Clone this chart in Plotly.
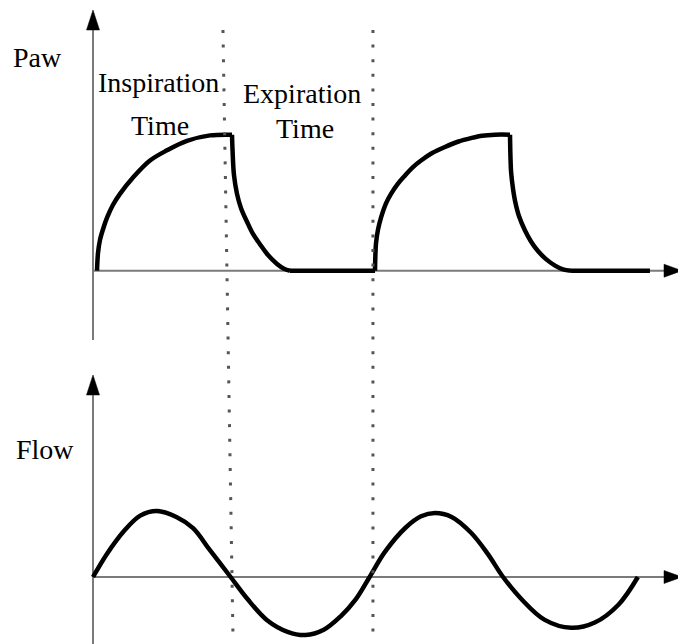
import plotly.graph_objects as go

# Airway pressure (Paw) during two breaths: time (s) and pressure (cmH2O)
paw_t = [0.029, 0.036, 0.050, 0.072, 0.101, 0.144, 0.194, 0.288, 0.410, 0.532,
         0.676, 0.842, 1.000,
         1.004, 1.014, 1.036, 1.065, 1.108, 1.151, 1.201, 1.259, 1.324, 1.374,
         1.417, 2.029,
         2.036, 2.050, 2.072, 2.108, 2.144, 2.194, 2.245, 2.300, 2.360, 2.440,
         2.532, 2.630, 2.719, 2.800, 2.892, 3.000,
         3.003, 3.008, 3.022, 3.036, 3.065, 3.108, 3.151, 3.201, 3.259, 3.324,
         3.381, 3.439, 4.007]
paw_v = [0.0, 2.6, 4.5, 6.1, 7.8, 9.7, 11.3, 13.7, 16.2, 17.7,
         19.1, 19.9, 20.0,
         17.7, 14.1, 11.3, 9.2, 7.2, 5.4, 3.9, 2.3, 1.0, 0.3,
         0.0, 0.0,
         4.0, 6.0, 7.8, 9.9, 11.3, 12.8, 14.0, 15.2, 16.2, 17.3,
         18.2, 19.0, 19.5, 19.85, 20.0, 20.0,
         17.0, 14.5, 12.0, 10.3, 8.0, 5.9, 4.3, 2.9, 1.7, 0.75,
         0.2, 0.0, 0.0]
# instants where the pressure trace changes course abruptly
paw_corners_t = [1.000, 1.417, 2.029, 3.000, 3.439]

# Flow (L/s) over the same two breaths
flow_t = [0.00, 0.10, 0.22, 0.34, 0.46, 0.60, 0.72, 0.84, 0.99, 1.11, 1.25,
          1.40, 1.53, 1.66, 1.78, 1.89, 1.99, 2.10, 2.25, 2.36, 2.46, 2.58,
          2.72, 2.84, 2.95, 3.08, 3.25, 3.44, 3.61, 3.78, 3.92]
flow_v = [0.00, 0.35, 0.69, 0.93, 1.00, 0.91, 0.74, 0.41, 0.00, -0.33, -0.65,
          -0.83, -0.88, -0.80, -0.60, -0.34, 0.00, 0.38, 0.75, 0.92, 0.97, 0.91,
          0.67, 0.35, 0.00, -0.33, -0.65, -0.77, -0.69, -0.42, 0.00]

# Boundaries between inspiration and expiration (top end, bottom end)
phase_top_t = [0.935, 2.014]
phase_bottom_t = [1.007, 2.014]

panel_labels = ["Paw", "Flow"]
phase_labels = [["Inspiration", "Time"], ["Expiration", "Time"]]

W, H = 678, 644
X0, XS = 93.0, 139.0          # pixel of t=0 and pixels per second
PAW0, PAWS = 270.7, 6.8       # pixel of Paw=0 and pixels per cmH2O
FLOW0, FLOWS = 577.0, 66.0    # pixel of Flow=0 and pixels per L/s


def px(xp):
    return xp / W


def py(yp):
    return 1 - yp / H


fig = go.Figure()

# pressure trace: smooth pieces joined at sharp corners
cuts = [0] + [paw_t.index(c) for c in paw_corners_t] + [len(paw_t) - 1]
for a, b in zip(cuts[:-1], cuts[1:]):
    fig.add_trace(go.Scatter(
        x=paw_t[a:b + 1], y=paw_v[a:b + 1], mode="lines", yaxis="y",
        line=dict(color="black", width=4.5, shape="spline", smoothing=1.0,
                  simplify=False),
        hoverinfo="skip"))

fig.add_trace(go.Scatter(
    x=flow_t, y=flow_v, mode="lines", yaxis="y2",
    line=dict(color="black", width=4.5, shape="spline", smoothing=1.0,
              simplify=False),
    hoverinfo="skip"))

axis_col = "#7a7a7a"
shapes = []
# vertical axes
for top, bottom in [(28, 340), (393, H + 2)]:
    shapes.append(dict(type="line", xref="x", yref="paper", x0=0, x1=0,
                       y0=py(bottom), y1=py(top),
                       line=dict(color=axis_col, width=2), layer="below"))
# horizontal axes at Paw = 0 and Flow = 0
for yr in ["y", "y2"]:
    shapes.append(dict(type="line", xref="x", yref=yr, x0=0,
                       x1=(664 - X0) / XS, y0=0, y1=0,
                       line=dict(color=axis_col, width=2), layer="below"))

# arrow heads
hw = 6.5 / XS
for tip, base in [(10, 30), (375, 395)]:
    shapes.append(dict(type="path", xref="x", yref="paper",
                       path=f"M {-hw},{py(base)} L 0,{py(tip)} L {hw},{py(base)} Z",
                       fillcolor="black", line=dict(color="black", width=0.5)))
for yr, scale in [("y", PAWS), ("y2", FLOWS)]:
    hh = 6.5 / scale
    shapes.append(dict(type="path", xref="paper", yref=yr,
                       path=f"M {px(664)},{-hh} L {px(682)},0 L {px(664)},{hh} Z",
                       fillcolor="black", line=dict(color="black", width=0.5)))

# dotted phase boundaries
for tt, tb in zip(phase_top_t, phase_bottom_t):
    shapes.append(dict(type="line", xref="x", yref="paper", x0=tt, x1=tb,
                       y0=py(30), y1=py(636),
                       line=dict(color="#555555", width=3, dash="3px,11.6px")))

font = dict(family="Liberation Serif, Times New Roman, serif", size=28,
            color="black")
annotations = [
    dict(text=panel_labels[0], x=px(37.5), y=py(57.5)),
    dict(text=panel_labels[1], x=px(45), y=py(449)),
    dict(text=phase_labels[0][0], x=px(158), y=py(83)),
    dict(text=phase_labels[0][1], x=px(159.5), y=py(126)),
    dict(text=phase_labels[1][0], x=px(301.5), y=py(93)),
    dict(text=phase_labels[1][1], x=px(305), y=py(128.5)),
]
for a in annotations:
    a.update(xref="paper", yref="paper", showarrow=False, font=font,
             xanchor="center", yanchor="middle")

fig.update_layout(
    width=W, height=H, margin=dict(l=0, r=0, t=0, b=0),
    paper_bgcolor="white", plot_bgcolor="white", showlegend=False,
    xaxis=dict(visible=False, range=[-X0 / XS, (W - X0) / XS],
               domain=[0, 1], fixedrange=True),
    yaxis=dict(visible=False, range=[(PAW0 - H) / PAWS, PAW0 / PAWS],
               domain=[0, 1], fixedrange=True),
    yaxis2=dict(visible=False, overlaying="y",
                range=[(FLOW0 - H) / FLOWS, FLOW0 / FLOWS], fixedrange=True),
    shapes=shapes, annotations=annotations,
)

fig.write_html("out.html")
